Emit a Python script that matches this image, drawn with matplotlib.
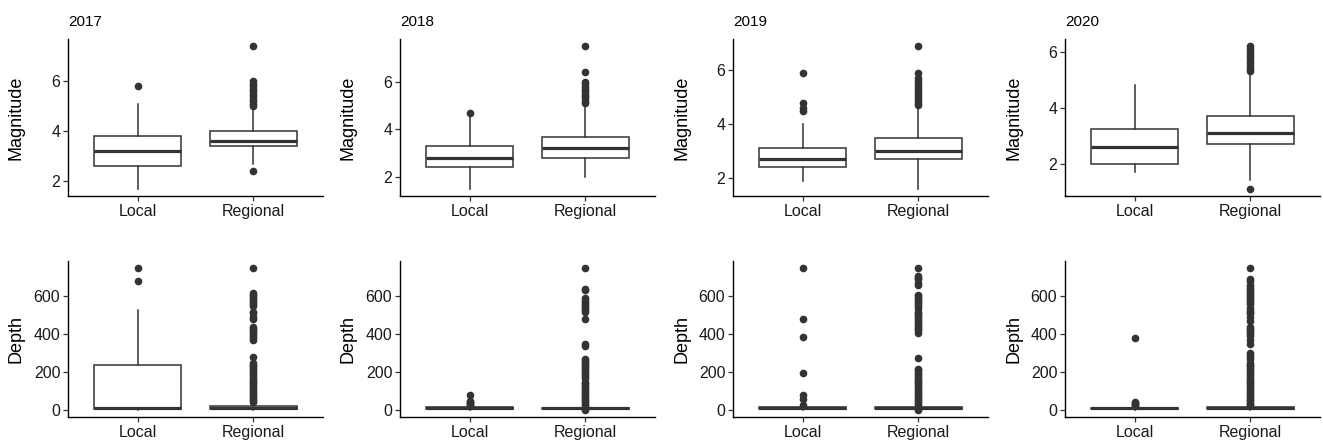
import matplotlib
matplotlib.use("Agg")
import matplotlib.pyplot as plt
from matplotlib.ticker import MultipleLocator

plt.rcParams['font.family'] = ['Liberation Sans', 'DejaVu Sans']

years = ["2017", "2018", "2019", "2020"]
categories = ["Local", "Regional"]

# Magnitude box statistics: (whislo, q1, med, q3, whishi)
mag_local_stats = {
    "2017": (1.7, 2.6, 3.2, 3.83, 5.1),
    "2018": (1.5, 2.4, 2.8, 3.3, 4.6),
    "2019": (1.9, 2.4, 2.7, 3.1, 4.0),
    "2020": (1.7, 2.0, 2.6, 3.23, 4.8),
}
mag_regional_stats = {
    "2017": (2.7, 3.4, 3.6, 4.0, 4.9),
    "2018": (2.0, 2.8, 3.2, 3.7, 5.0),
    "2019": (1.6, 2.7, 3.0, 3.5, 4.6),
    "2020": (1.4, 2.7, 3.1, 3.7, 5.2),
}
mag_local_fliers = {
    "2017": [5.8],
    "2018": [4.7],
    "2019": [4.5, 4.6, 4.8, 5.9],
    "2020": [],
}
mag_regional_fliers = {
    "2017": [2.4, 5.0, 5.1, 5.2, 5.3, 5.4, 5.5, 5.6, 5.7, 5.8, 5.9, 6.0, 7.4],
    "2018": [5.1, 5.2, 5.3, 5.4, 5.5, 5.6, 5.7, 5.8, 5.9, 6.0, 6.4, 7.5],
    "2019": [4.7, 4.8, 4.9, 5.0, 5.1, 5.2, 5.3, 5.4, 5.5, 5.6, 5.7, 5.9, 6.9],
    "2020": [1.1, 5.3, 5.4, 5.5, 5.6, 5.7, 5.8, 5.9, 6.0, 6.1, 6.2],
}

# Depth box statistics: (whislo, q1, med, q3, whishi)
depth_local_stats = {
    "2017": (0, 5, 10, 235, 530),
    "2018": (0, 5, 10, 13, 18),
    "2019": (0, 6, 10, 15, 20),
    "2020": (0, 5, 10, 12, 18),
}
depth_regional_stats = {
    "2017": (0, 6, 10, 20, 40),
    "2018": (0, 5, 10, 12, 18),
    "2019": (0, 6, 10, 14, 20),
    "2020": (0, 6, 10, 15, 22),
}
depth_local_fliers = {
    "2017": [680, 750],
    "2018": [20, 25, 30, 35, 40, 45, 78],
    "2019": [25, 60, 80, 195, 385, 480, 750],
    "2020": [20, 25, 30, 35, 40, 380],
}
depth_regional_fliers = {
    "2017": [40, 50, 60, 70, 80, 90, 100, 110, 120, 130, 140, 150, 160, 170,
             180, 190, 200, 210, 220, 230, 240, 250, 280, 370, 380, 390, 400,
             410, 420, 430, 440, 480, 490, 510, 520, 550, 560, 570, 580, 590,
             600, 610, 620, 750],
    "2018": [0, 20, 30, 40, 50, 60, 70, 80, 90, 100, 110, 120, 130, 140, 150,
             170, 180, 190, 200, 210, 220, 230, 240, 250, 260, 270, 340, 350,
             480, 520, 530, 540, 550, 560, 570, 580, 590, 635, 640, 750],
    "2019": [0, 20, 30, 40, 50, 60, 70, 80, 90, 100, 110, 120, 130, 140, 150,
             160, 170, 180, 190, 200, 210, 215, 275, 405, 420, 430, 440, 450,
             460, 470, 480, 490, 500, 510, 520, 540, 550, 560, 570, 580, 590,
             600, 610, 660, 670, 690, 700, 710, 750],
    "2020": [25, 30, 40, 50, 60, 70, 80, 90, 100, 110, 120, 130, 140, 150,
             160, 170, 180, 190, 200, 210, 220, 230, 240, 250, 270, 280, 290,
             300, 350, 370, 390, 400, 410, 420, 430, 440, 470, 490, 510, 520,
             530, 540, 560, 570, 580, 590, 600, 610, 620, 630, 640, 650, 660,
             680, 690, 750],
}

fig = plt.figure(figsize=(13.23, 4.41), dpi=100)
W, H = 1323.0, 441.0
lefts = [68, 400, 733, 1065]
width = 255
top_row = (196, 39)     # (bottom px, top px)
bot_row = (417, 261)

edge = '#333333'


def stats_dict(s, fl):
    lo, q1, med, q3, hi = s
    return dict(whislo=lo, q1=q1, med=med, q3=q3, whishi=hi, fliers=fl)


def draw(ax, s_local, s_reg, f_local, f_reg, ylabel, step):
    bx = [stats_dict(s_local, f_local), stats_dict(s_reg, f_reg)]
    ax.bxp(bx, positions=[1, 2], widths=0.75, showcaps=False, patch_artist=True,
           boxprops=dict(facecolor='white', edgecolor=edge, linewidth=1.1),
           whiskerprops=dict(color=edge, linewidth=1.1),
           medianprops=dict(color=edge, linewidth=2.3, solid_capstyle='butt'),
           flierprops=dict(marker='o', markerfacecolor=edge, markeredgecolor=edge,
                           markersize=4.5, linestyle='none'))
    ax.set_xlim(0.4, 2.6)
    ax.set_xticks([1, 2])
    ax.set_xticklabels(categories)
    ax.yaxis.set_major_locator(MultipleLocator(step))
    ax.spines['top'].set_visible(False)
    ax.spines['right'].set_visible(False)
    for sp in ('left', 'bottom'):
        ax.spines[sp].set_linewidth(1.0)
        ax.spines[sp].set_color('black')
    ax.tick_params(axis='both', length=3.5, width=0.9, color='#333333',
                   labelsize=11.5, labelcolor='#1a1a1a', pad=2)
    ax.set_ylabel(ylabel, fontsize=13)
    ax.yaxis.set_label_coords(-43 / width, 0.5)
    ax.margins(y=0.05)


for i, yr in enumerate(years):
    b, t = top_row
    ax = fig.add_axes([lefts[i] / W, 1 - b / H, width / W, (b - t) / H])
    draw(ax, mag_local_stats[yr], mag_regional_stats[yr],
         mag_local_fliers[yr], mag_regional_fliers[yr], "Magnitude", 2)
    ax.set_title(yr, loc='left', fontsize=11, pad=9)

    b, t = bot_row
    ax2 = fig.add_axes([lefts[i] / W, 1 - b / H, width / W, (b - t) / H])
    draw(ax2, depth_local_stats[yr], depth_regional_stats[yr],
         depth_local_fliers[yr], depth_regional_fliers[yr], "Depth", 200)

fig.savefig("out.png", dpi=100)
